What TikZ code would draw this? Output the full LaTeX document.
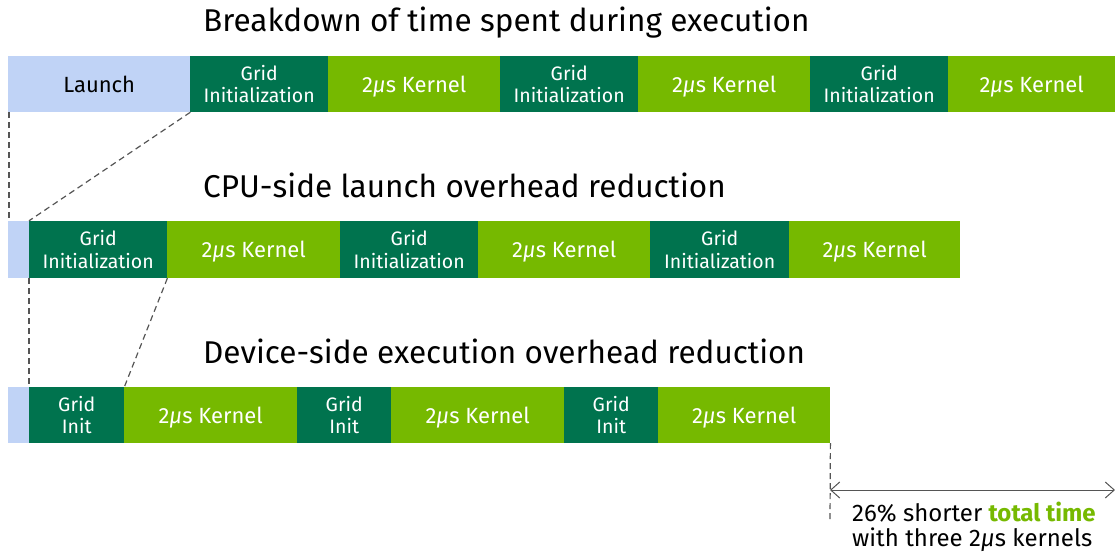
\documentclass[tikz,border=0pt]{standalone}
\usepackage{fontspec}
\setmainfont{Fira Sans}
\usetikzlibrary{arrows.meta}
\definecolor{lblue}{HTML}{C0D3F6}
\definecolor{dgreen}{HTML}{00734E}
\definecolor{kgreen}{HTML}{76B900}
\definecolor{dashgray}{HTML}{555555}
\newcommand{\mus}{2\textit{μ}s}
\begin{document}
\begin{tikzpicture}[x=1pt,y=-1pt,
  seg/.style={rectangle,inner sep=0pt,anchor=west,minimum height=56pt,align=center},
  launchbox/.style={seg,fill=lblue,text=black,font=\fontsize{22}{24}\selectfont,text depth=0pt},
  gridbox/.style={seg,fill=dgreen,text=white,font=\fontsize{19.5}{22.5}\selectfont},
  kernbox/.style={seg,fill=kgreen,text=white,font=\fontsize{22}{24}\selectfont,text depth=0pt},
  title/.style={anchor=base west,inner sep=0pt,font=\fontsize{31.5}{34}\selectfont},
  guide/.style={dashgray,line width=1.2pt,dash pattern=on 6pt off 4pt},
  note/.style={anchor=base west,inner sep=0pt,font=\fontsize{24}{26}\selectfont,text=black}]
\useasboundingbox (0,0) rectangle (1115,552);
% titles
\node[title] (t1) at (203,31) {Breakdown of time spent during execution};
\node[title] (t2) at (203,197) {CPU-side launch overhead reduction};
\node[title] (t3) at (203,363) {Device-side execution overhead reduction};
% row 1
\node[launchbox,minimum width=182pt] (l1) at (8,84) {Launch};
\node[gridbox,minimum width=138pt] (g11) at (190,84) {Grid\\Initialization};
\node[kernbox,minimum width=172pt] (k11) at (328,84) {\mus{} Kernel};
\node[gridbox,minimum width=138pt] (g12) at (500,84) {Grid\\Initialization};
\node[kernbox,minimum width=172pt] (k12) at (638,84) {\mus{} Kernel};
\node[gridbox,minimum width=138pt] (g13) at (810,84) {Grid\\Initialization};
\node[kernbox,minimum width=167pt] (k13) at (948,84) {\mus{} Kernel};
% row 2
\node[launchbox,minimum width=21pt,minimum height=57pt] (l2) at (8,249.5) {};
\node[gridbox,minimum width=138pt,minimum height=57pt] (g21) at (29,249.5) {Grid\\Initialization};
\node[kernbox,minimum width=173pt,minimum height=57pt] (k21) at (167,249.5) {\mus{} Kernel};
\node[gridbox,minimum width=138pt,minimum height=57pt] (g22) at (340,249.5) {Grid\\Initialization};
\node[kernbox,minimum width=172pt,minimum height=57pt] (k22) at (478,249.5) {\mus{} Kernel};
\node[gridbox,minimum width=139pt,minimum height=57pt] (g23) at (650,249.5) {Grid\\Initialization};
\node[kernbox,minimum width=171pt,minimum height=57pt] (k23) at (789,249.5) {\mus{} Kernel};
% row 3
\node[launchbox,minimum width=21pt] (l3) at (8,415) {};
\node[gridbox,minimum width=95pt] (g31) at (29,415) {Grid\\Init};
\node[kernbox,minimum width=173pt] (k31) at (124,415) {\mus{} Kernel};
\node[gridbox,minimum width=94pt] (g32) at (297,415) {Grid\\Init};
\node[kernbox,minimum width=173pt] (k32) at (391,415) {\mus{} Kernel};
\node[gridbox,minimum width=94pt] (g33) at (564,415) {Grid\\Init};
\node[kernbox,minimum width=172pt] (k33) at (658,415) {\mus{} Kernel};
% guides
\draw[guide] ([xshift=1pt]l1.south west) -- ([xshift=1pt]l2.north west);
\draw[guide] (l1.south east) -- (g21.north west);
\draw[guide] (g21.south west) -- (g31.north west);
\draw[guide] (g21.south east) -- (g31.north east);
\coordinate (vend) at (830,522);
\coordinate (aL) at (830,490);
\coordinate (aR) at (1115,490);
\draw[guide] (k33.south east) -- (vend);
\draw[dashgray,line width=1pt,{Straight Barb[length=9pt,width=16pt]}-{Straight Barb[length=9pt,width=16pt]}] (aL) -- (aR);
\node[note] (n1) at (852,521) {26\% shorter \textbf{\textcolor{kgreen}{total time}}};
\node[note] (n2) at (852,546) {with three \mus{} kernels};
\end{tikzpicture}
\end{document}
